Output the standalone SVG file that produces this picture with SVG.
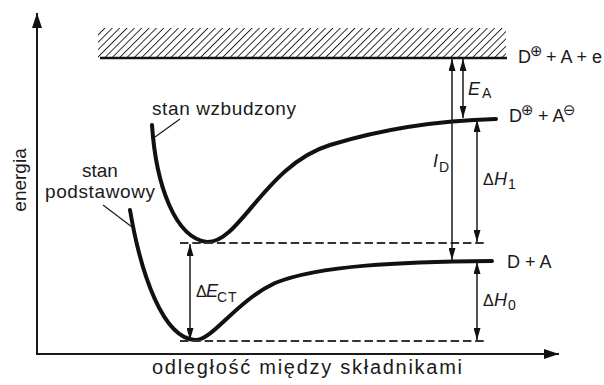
<svg xmlns="http://www.w3.org/2000/svg" width="604" height="385" viewBox="0 0 604 385">
<style>
text{font-family:"Liberation Sans",Arial,sans-serif;fill:#1a1a1a}
.big{font-size:18px}
.lab{font-size:19px}
.sub{font-size:14px;font-style:normal}
.it{font-style:italic}
.sym{font-family:"DejaVu Sans",sans-serif;font-size:15px}
.dl{font-size:16px}
.axis{stroke:#1a1a1a;stroke-width:2;fill:none}
.curve{stroke:#111;stroke-width:4;fill:none;stroke-linecap:round}
.dash{stroke:#333;stroke-width:2;stroke-dasharray:8.5 3.8;fill:none}
.arr{stroke:#1a1a1a;stroke-width:1.5;fill:none}
.lead{stroke:#1a1a1a;stroke-width:1.2;fill:none}
</style>
<defs>
<pattern id="hatch" width="5.2" height="5.2" patternUnits="userSpaceOnUse" patternTransform="rotate(45)">
<line x1="0" y1="0" x2="0" y2="5.2" stroke="#1a1a1a" stroke-width="1.8"/>
</pattern>
<marker id="ah" markerUnits="userSpaceOnUse" markerWidth="12" markerHeight="7" refX="12" refY="3.5" orient="auto-start-reverse">
<path d="M0,0 L12,3.5 L0,7 z" fill="#111"/>
</marker>
<marker id="ax" markerUnits="userSpaceOnUse" markerWidth="15" markerHeight="10" refX="15" refY="5" orient="auto">
<path d="M0,0 L15,5 L0,10 z" fill="#111"/>
</marker>
</defs>

<g id="axes">
<line class="axis" x1="37" y1="355" x2="37" y2="13" marker-end="url(#ax)"/>
<line class="axis" x1="36" y1="354" x2="559" y2="354" marker-end="url(#ax)"/>
<text class="lab" transform="translate(26,180) rotate(-90)" text-anchor="middle">energia</text>
<text x="152" y="374" font-size="20" textLength="310" lengthAdjust="spacing">odległość między składnikami</text>
</g>

<g id="ionization-limit">
<rect x="98" y="28" width="408" height="30" fill="url(#hatch)"/>
<line x1="100" y1="58" x2="507" y2="58" stroke="#111" stroke-width="2.5"/>
<text class="big" x="518" y="63">D<tspan class="sym" x="530" dy="-7">⊕</tspan><tspan dy="7" x="541"> + A + e</tspan></text>
</g>

<g id="excited-state">
<path class="curve" d="M152,125 C156,185 175,238 207,242 C240,243 265,165 330,145 C369,133 420,121 496,119"/>
<line class="lead" x1="180" y1="119" x2="155" y2="137"/>
<text class="lab" x="152" y="115" textLength="144" lengthAdjust="spacing">stan wzbudzony</text>
<text class="big" x="509" y="122">D<tspan class="sym" x="521" dy="-7">⊕</tspan><tspan dy="7" x="533"> + A</tspan><tspan class="sym" dy="-7" x="563">⊖</tspan></text>
</g>

<g id="ground-state">
<path class="curve" d="M130,210 C141,275 163,338 195,340 C212,341 235,302 275,283 C320,265 400,262 492,261"/>
<line class="lead" x1="103" y1="205" x2="132" y2="227"/>
<text class="lab" x="82" y="177">stan</text>
<text class="lab" x="45" y="198" textLength="110" lengthAdjust="spacing">podstawowy</text>
<text class="big" x="507" y="268">D + A</text>
</g>

<g id="connectors">
<line class="dash" x1="180" y1="243" x2="486" y2="243"/>
<line class="dash" x1="180" y1="341" x2="486" y2="341"/>
<line class="arr" x1="452" y1="59" x2="452" y2="260" marker-start="url(#ah)" marker-end="url(#ah)"/>
<line class="arr" x1="463" y1="59" x2="463" y2="118" marker-start="url(#ah)" marker-end="url(#ah)"/>
<line class="arr" x1="477" y1="120" x2="477" y2="242" marker-start="url(#ah)" marker-end="url(#ah)"/>
<line class="arr" x1="477" y1="262" x2="477" y2="340" marker-start="url(#ah)" marker-end="url(#ah)"/>
<line class="arr" x1="190" y1="244" x2="190" y2="340" marker-start="url(#ah)" marker-end="url(#ah)"/>
</g>

<g id="labels">
<text class="big it" x="468" y="95">E<tspan class="sub" x="482" y="98">A</tspan></text>
<text class="big it" x="433" y="167">I<tspan class="sub" x="439" y="172">D</tspan></text>
<text class="big" x="483" y="185"><tspan class="dl">Δ</tspan><tspan class="it" x="494">H</tspan><tspan class="sub" x="508" y="189">1</tspan></text>
<text class="big" x="483" y="306"><tspan class="dl">Δ</tspan><tspan class="it" x="494">H</tspan><tspan class="sub" x="508" y="310">0</tspan></text>
<text class="big" x="196" y="297"><tspan class="dl">Δ</tspan><tspan class="it" x="206">E</tspan><tspan class="sub" x="217" y="302" letter-spacing="1">CT</tspan></text>
</g>
</svg>
